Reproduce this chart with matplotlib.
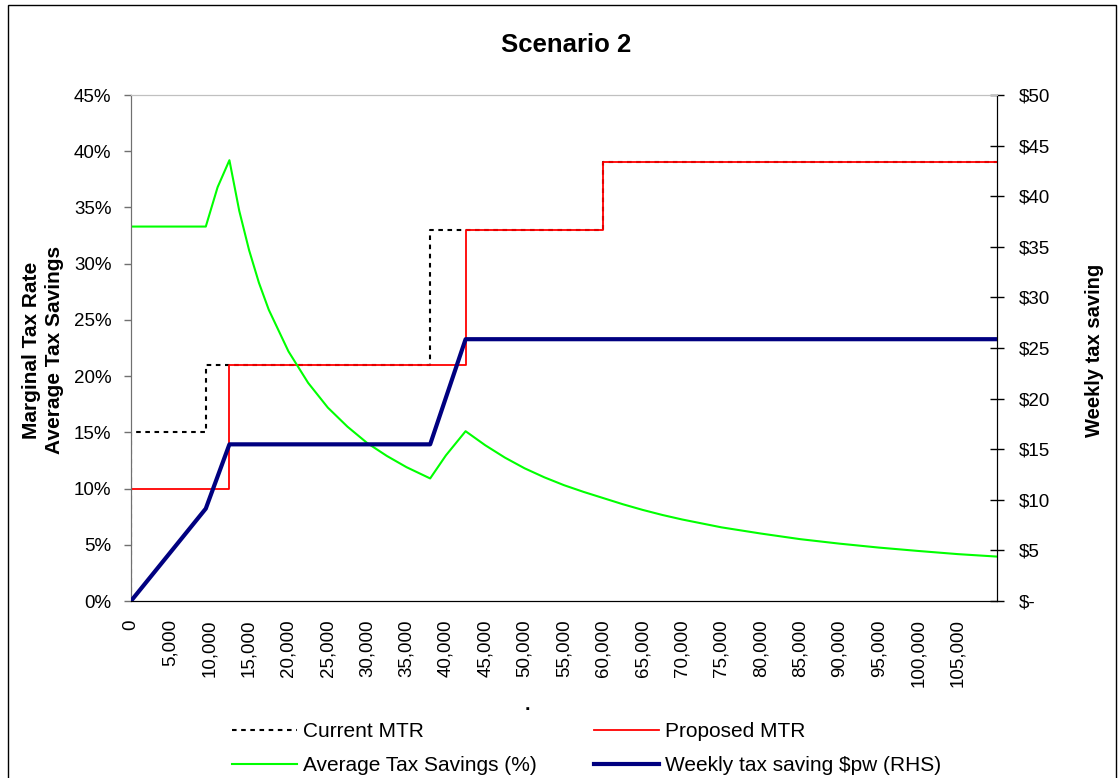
import matplotlib
matplotlib.use('Agg')
import matplotlib.pyplot as plt
from matplotlib.lines import Line2D
from matplotlib.patches import Rectangle
from matplotlib.ticker import FuncFormatter

plt.rcParams['font.family'] = ['Liberation Sans', 'DejaVu Sans']

# income steps for the marginal rate lines
mtr_income = [0, 0, 9500, 9500, 38000, 38000, 60000, 60000, 110000]
current_mtr = [0, 15, 15, 21, 21, 33, 33, 39, 39]
prop_income = [0, 0, 12500, 12500, 42500, 42500, 60000, 60000, 110000]
proposed_mtr = [0, 10, 10, 21, 21, 33, 33, 39, 39]

# average tax savings (% of current tax)
avg_income = [0, 9500, 11000, 12500, 13750, 15000, 16250, 17500, 20000, 22500,
              25000, 27500, 30000, 32500, 35000, 38000, 40000, 42500, 45000,
              47500, 50000, 52500, 55000, 57500, 60000, 62500, 65000, 67500,
              70000, 75000, 80000, 85000, 90000, 95000, 100000, 105000, 110000]
avg_savings = [33.3, 33.3, 36.8, 39.2, 34.7, 31.2, 28.3, 25.9, 22.2, 19.4,
               17.2, 15.5, 14.05, 12.9, 11.9, 10.9, 12.95, 15.1, 13.85,
               12.75, 11.8, 11.0, 10.3, 9.7, 9.15, 8.6, 8.1, 7.65,
               7.25, 6.55, 6.0, 5.5, 5.1, 4.75, 4.45, 4.17, 3.95]

# weekly tax saving $pw (right axis)
wk_income = [0, 9500, 12500, 38000, 42500, 110000]
wk_saving = [0, 9.13, 15.48, 15.48, 25.87, 25.87]

xticks = list(range(0, 110000, 5000))

W, H = 1119, 778
fig = plt.figure(figsize=(W / 100, H / 100), dpi=100)
ax = fig.add_axes([131 / W, 1 - 601 / H, (997 - 131) / W, (601 - 95) / H])
ax2 = ax.twinx()

ax.plot(mtr_income, current_mtr, color='black', lw=1.5, ls=(0, (2.2, 2.2)), zorder=2)
ax.plot(prop_income, proposed_mtr, color='#ff0000', lw=1.3, zorder=3)
ax.plot(avg_income, avg_savings, color='#00ff00', lw=1.5, zorder=4)
ax2.plot(wk_income, wk_saving, color='#000080', lw=3, zorder=5)

ax.set_xlim(0, 110000)
ax.set_ylim(0, 45)
ax2.set_ylim(0, 50)

ax.set_yticks(range(0, 46, 5))
ax.yaxis.set_major_formatter(FuncFormatter(lambda v, p: f'{v:.0f}%'))
ax2.set_yticks(range(0, 51, 5))
ax2.yaxis.set_major_formatter(FuncFormatter(lambda v, p: '$-' if v == 0 else f'${v:.0f}'))

ax.set_xticks(xticks)
ax.set_xticklabels([f'{v:,}' for v in xticks], rotation=90, va='top')

ax.tick_params(axis='x', length=0, pad=13, labelsize=13.5)
ax.tick_params(axis='y', length=5, width=1, color='#707070', pad=9, labelsize=13.5)
ax2.tick_params(axis='y', direction='inout', length=10, width=1, pad=11, labelsize=13.5)

for a in (ax, ax2):
    a.spines['top'].set_color('#c0c0c0')
    a.spines['left'].set_color('#707070')
    a.spines['bottom'].set_color('black')
    a.spines['right'].set_color('black')

fig.text(566 / W, 1 - 45 / H, 'Scenario 2', ha='center', va='center',
         fontsize=18.5, fontweight='bold')
fig.text(43 / W, 1 - 350 / H, 'Marginal Tax Rate\nAverage Tax Savings', rotation=90,
         ha='center', va='center', multialignment='center', fontsize=15,
         fontweight='bold', linespacing=1.25)
fig.text(1095 / W, 1 - 350 / H, 'Weekly tax saving', rotation=90,
         ha='center', va='center', fontsize=14.5, fontweight='bold')
fig.text(527 / W, 1 - 705 / H, '.', ha='center', va='center', fontsize=14, fontweight='bold')

handles = [
    Line2D([], [], color='black', lw=1.5, ls=(0, (2.2, 2.2))),
    Line2D([], [], color='#00ff00', lw=1.5),
    Line2D([], [], color='#ff0000', lw=1.3),
    Line2D([], [], color='#000080', lw=3),
]
labels = ['Current MTR', 'Average Tax Savings (%)', 'Proposed MTR',
          'Weekly tax saving $pw (RHS)']
fig.legend(handles, labels, ncol=2, loc='upper left', frameon=False,
           bbox_to_anchor=(224 / W, 1 - 714 / H), fontsize=15,
           handlelength=3.1, handletextpad=0.3, columnspacing=2.75,
           labelspacing=0.72, borderaxespad=0)

fig.patches.append(Rectangle((8 / W, -0.01), (1116 - 8) / W, 1.01 - 5 / H,
                             transform=fig.transFigure, fill=False,
                             edgecolor='black', lw=1))

fig.savefig('out.png', dpi=100)
